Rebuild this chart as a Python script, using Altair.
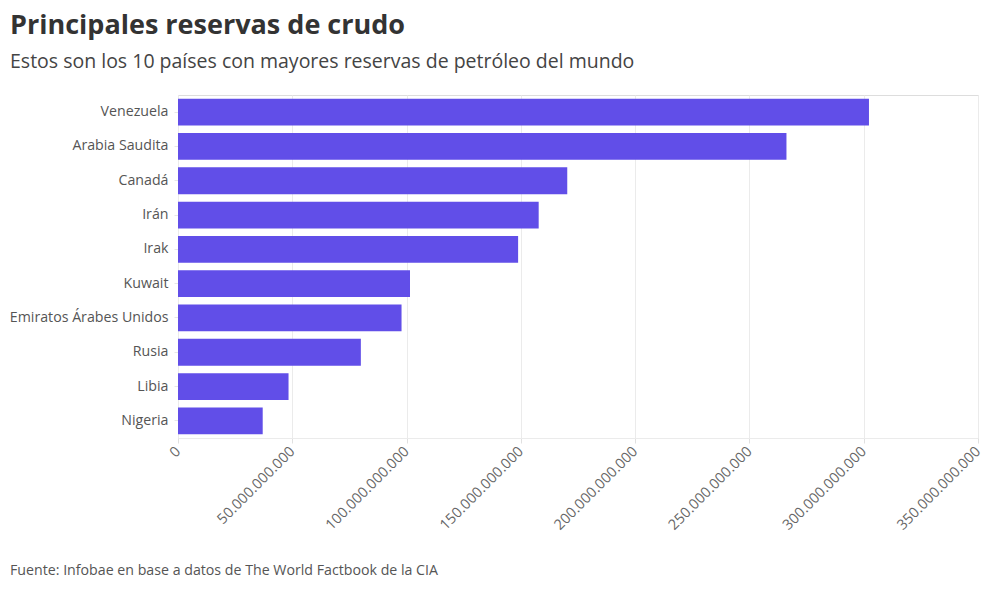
import altair as alt
import pandas as pd

paises = ["Venezuela", "Arabia Saudita", "Canadá", "Irán", "Irak", "Kuwait",
          "Emiratos Árabes Unidos", "Rusia", "Libia", "Nigeria"]
reservas = [302300000000, 266200000000, 170300000000, 157800000000, 148800000000,
            101500000000, 97800000000, 80000000000, 48360000000, 37060000000]
x_ticks = [0, 50e9, 100e9, 150e9, 200e9, 250e9, 300e9, 350e9]

df = pd.DataFrame({"pais": paises, "reservas": reservas})

FONT = "Open Sans"
W, H = 800, 343

bars = alt.Chart(df).mark_bar(color="#614ee8").encode(
    x=alt.X("reservas:Q", scale=alt.Scale(domain=[0, 350e9], nice=False),
            axis=alt.Axis(values=x_ticks, title=None, labelAngle=315, labelAlign="right",
                          labelBaseline="middle", labelPadding=6,
                          labelExpr="replace(format(datum.value, ','), /,/g, '.')",
                          grid=True, gridColor="#ebebeb", domainColor="#ebebeb",
                          tickColor="#e0e0e0", tickSize=5, labelColor="#666666",
                          labelFontSize=14.5, labelFont=FONT)),
    y=alt.Y("pais:N", sort=paises, scale=alt.Scale(paddingInner=0.22, paddingOuter=0.11),
            axis=alt.Axis(title=None, labelColor="#555555", labelFontSize=14.2, labelFont=FONT,
                          labelPadding=6, tickSize=4, tickColor="#e6e6e6", domain=False)),
)

footer = alt.Chart(pd.DataFrame({"t": ["Fuente: Infobae en base a datos de The World Factbook de la CIA"]})).mark_text(
    align="left", baseline="middle", font=FONT, fontSize=14.2, color="#555555"
).encode(text="t:N", x=alt.value(-168), y=alt.value(H + 133))

chart = alt.layer(bars, footer).properties(
    width=W, height=H,
    title=alt.TitleParams(
        "Principales reservas de crudo",
        subtitle="Estos son los 10 países con mayores reservas de petróleo del mundo",
        anchor="start", frame="group", dx=-168, font=FONT, fontSize=27, fontWeight="bold",
        color="#333333",
        subtitleFont=FONT, subtitleFontSize=19.5, subtitleColor="#444444", subtitlePadding=13,
        offset=23,
    ),
    autosize=alt.AutoSizeParams(type="none"),
    padding={"left": 178, "top": 95, "right": 22, "bottom": 151},
).configure_view(stroke=None).configure(background="white")

chart.save("out.html", embed_options={"renderer": "svg", "actions": False})
